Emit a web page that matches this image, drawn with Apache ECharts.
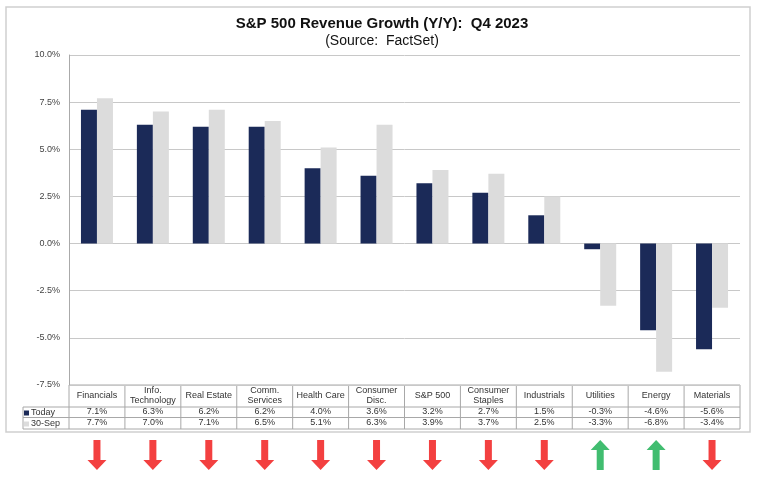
<!DOCTYPE html>
<html><head><meta charset="utf-8">
<script src="https://cdn.jsdelivr.net/npm/echarts@6/dist/echarts.min.js"></script>
<style>html,body{margin:0;padding:0;background:#fff}#c{width:758px;height:485px}</style>
</head><body><div id="c"></div>
<script>
const categories = ['Financials','Info.\nTechnology','Real Estate','Comm.\nServices','Health Care','Consumer\nDisc.','S&P 500','Consumer\nStaples','Industrials','Utilities','Energy','Materials'];
const todayValues = [7.1,6.3,6.2,6.2,4.0,3.6,3.2,2.7,1.5,-0.3,-4.6,-5.6];
const sepValues   = [7.7,7.0,7.1,6.5,5.1,6.3,3.9,3.7,2.5,-3.3,-6.8,-3.4];
const seriesNames = ['Today','30-Sep'];
const yTicks = {min:-7.5, max:10, interval:2.5};

const FONT = 'Liberation Sans, Arial, sans-serif';
const L = 69, R = 740, T = 55, B = 385;
const colW = (R - L) / categories.length;
const rowY = [385, 407, 417.5, 429];
const lineCol = '#a8a8a8';

const chart = echarts.init(document.getElementById('c'), null, {renderer:'canvas'});

const graphics = [
  {type:'rect', shape:{x:6,y:7,width:744,height:425}, style:{fill:'none', stroke:'#cfcfcf', lineWidth:1.5}, silent:true}
];
function hl(x1,x2,y){graphics.push({type:'line',shape:{x1:x1,y1:y,x2:x2,y2:y},style:{stroke:lineCol,lineWidth:1},silent:true});}
function vl(x,y1,y2){graphics.push({type:'line',shape:{x1:x,y1:y1,x2:x,y2:y2},style:{stroke:lineCol,lineWidth:1},silent:true});}
hl(L,R,rowY[0]); hl(23,R,rowY[1]); hl(23,R,rowY[2]); hl(23,R,rowY[3]);
vl(23,rowY[1],rowY[3]);
for(let i=0;i<=categories.length;i++){ vl(L+i*colW, rowY[0], rowY[3]); }

const downPath = 'path://M6,0 L13,0 L13,20 L19,20 L9.5,30 L0,20 L6,20 Z';
const pct = v => v.toFixed(1) + '%';
function tableAxis(data, margin, lh){
  return {type:'category', gridIndex:0, data:data, position:'bottom',
    axisLine:{show:false,onZero:false}, axisTick:{show:false}, splitLine:{show:false},
    axisLabel:{interval:0, margin:margin, verticalAlign:'middle', lineHeight:lh,
      fontFamily:FONT, fontSize:9, color:'#333'}};
}

chart.setOption({
  animation:false,
  textStyle:{fontFamily:FONT},
  title:[
    {text:'S&P 500 Revenue Growth (Y/Y):  Q4 2023', left:377, textAlign:'center', top:11,
     textStyle:{fontFamily:FONT,fontSize:15,fontWeight:'bold',color:'#111'}},
    {text:'(Source:  FactSet)', left:377, textAlign:'center', top:29,
     textStyle:{fontFamily:FONT,fontSize:14,fontWeight:'normal',color:'#111'}}
  ],
  legend:{orient:'vertical', left:24, top:408, itemWidth:5, itemHeight:5, itemGap:1, padding:0,
    icon:'rect', data:seriesNames, textStyle:{fontFamily:FONT,fontSize:9,lineHeight:10,color:'#333',padding:[0,0,0,-3]}},
  grid:[
    {left:L, right:758-R, top:T, height:B-T},
    {left:L, right:758-R, top:437, height:36}
  ],
  xAxis:[
    tableAxis(categories, 11, 10),
    {type:'category', gridIndex:1, data:categories, show:false},
    tableAxis(todayValues.map(pct), 27, 11),
    tableAxis(sepValues.map(pct), 38, 11)
  ],
  yAxis:[
    {type:'value', gridIndex:0, min:yTicks.min, max:yTicks.max, interval:yTicks.interval,
     axisLine:{show:true, lineStyle:{color:'#aaa'}}, axisTick:{show:false},
     splitLine:{lineStyle:{color:'#c8c8c8'}},
     axisLabel:{margin:9, fontFamily:FONT, fontSize:9, color:'#444', formatter:pct}},
    {type:'value', gridIndex:1, min:-1, max:1, show:false}
  ],
  series:[
    {name:seriesNames[0], type:'bar', xAxisIndex:0, data:todayValues, barWidth:16, barGap:'0%', itemStyle:{color:'#1b2a58'}},
    {name:seriesNames[1], type:'bar', xAxisIndex:0, data:sepValues, barWidth:16, barGap:'0%', itemStyle:{color:'#dcdcdc'}},
    {type:'scatter', xAxisIndex:1, yAxisIndex:1,
     data: categories.map((c,i)=>{
       const up = todayValues[i] > sepValues[i];
       return {value:[i,0], symbol:downPath, symbolRotate: up?180:0,
               itemStyle:{color: up ? '#12ad4c' : '#f01010'}};
     }),
     symbolSize:[19,30], symbolKeepAspect:false, silent:true}
  ],
  graphic:graphics
});
</script></body></html>
